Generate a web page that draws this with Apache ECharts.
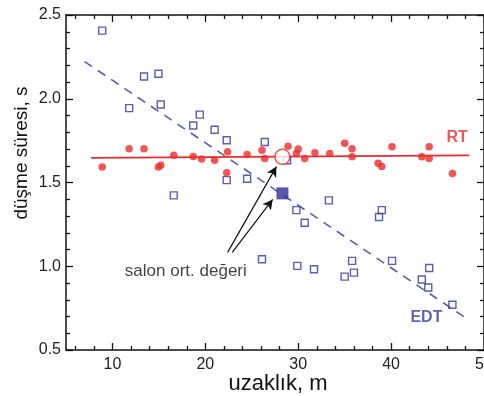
<!DOCTYPE html>
<html>
<head>
<meta charset="utf-8">
<script src="https://cdn.jsdelivr.net/npm/echarts@6/dist/echarts.min.js"></script>
<style>html,body{margin:0;padding:0;background:#fff}#c{width:484px;height:396px}</style>
</head>
<body>
<div id="c"></div>
<script>
// RT points [distance m, decay time s]
var rtPoints = [[8.9,1.593],[11.8,1.702],[13.4,1.702],[14.95,1.593],[15.2,1.603],[16.6,1.663],[18.7,1.655],[19.6,1.641],[21.0,1.633],[22.4,1.683],[22.3,1.558],[24.5,1.667],[26.1,1.692],[26.4,1.643],[28.9,1.716],[30.0,1.70],[29.8,1.673],[30.7,1.643],[31.8,1.677],[33.4,1.673],[35.0,1.734],[35.8,1.702],[35.8,1.653],[38.6,1.615],[39.0,1.595],[40.1,1.714],[43.3,1.653],[44.1,1.714],[44.1,1.643],[46.6,1.554]];
// EDT points
var edtPoints = [[8.9,2.407],[13.4,2.133],[14.95,2.149],[11.8,1.944],[15.2,1.966],[19.4,1.905],[18.7,1.84],[21.0,1.815],[22.3,1.752],[26.4,1.742],[16.6,1.423],[22.3,1.514],[24.5,1.522],[28.8,1.633],[33.3,1.393],[29.8,1.335],[30.7,1.26],[39.0,1.335],[38.7,1.294],[26.1,1.042],[29.9,1.002],[31.7,0.982],[35.8,1.032],[36.0,0.962],[35.0,0.938],[40.1,1.032],[44.1,0.99],[43.3,0.921],[44.0,0.873],[46.6,0.77]];
// fit lines
var rtFit = [[7.7,1.647],[48.4,1.662]];
var edtFit = [[7.0,2.222],[48.2,0.685]];
// hall averages
var rtMean = [[28.3,1.653]];
var edtMean = [[28.3,1.435]];
// annotation arrows [tail, tip]
var arrows = [[[22.4,1.083],[27.65,1.595]],[[22.9,1.083],[27.25,1.399]]];
// text annotations
var notes = [{value:[17.9,0.972],text:'salon ort. değeri',color:'#111',bold:false,size:17},
             {value:[47.1,1.768],text:'RT',color:'#ee2a2a',bold:true,size:16},
             {value:[43.8,0.696],text:'EDT',color:'#3b3b9e',bold:true,size:16}];
// ticks
var xMajor = [10,20,30,40,50];
var xMinor = [6,8,12,14,16,18,22,24,26,28,32,34,36,38,42,44,46,48];
var yMajor = [0.5,1.0,1.5,2.0,2.5];
var yMinor = [0.6,0.7,0.8,0.9,1.1,1.2,1.3,1.4,1.6,1.7,1.8,1.9,2.1,2.2,2.3,2.4];
var X_MIN = 5, X_MAX = 50, Y_MIN = 0.5, Y_MAX = 2.5;

var RED = '#ee2a2a', BLUE = '#35359c';
var FONT = 'Liberation Sans, Arial, sans-serif';
var GRID = {left:66, right:0, top:15, bottom:46};

var chart = echarts.init(document.getElementById('c'), null, {renderer:'canvas'});

// tick lengths (px) expressed in axis units from the grid size
var plotW = chart.getWidth() - GRID.left - GRID.right;
var plotH = chart.getHeight() - GRID.top - GRID.bottom;
function ux(px){ return px * (X_MAX - X_MIN) / plotW; }
function uy(px){ return px * (Y_MAX - Y_MIN) / plotH; }
var tickSegs = [];
function addX(vals, L){ vals.forEach(function(v){
  tickSegs.push([{coord:[v,Y_MIN]},{coord:[v,Y_MIN+uy(L)]}]);
  tickSegs.push([{coord:[v,Y_MAX]},{coord:[v,Y_MAX-uy(L)]}]); }); }
function addY(vals, L){ vals.forEach(function(v){
  tickSegs.push([{coord:[X_MIN,v]},{coord:[X_MIN+ux(L),v]}]);
  tickSegs.push([{coord:[X_MAX,v]},{coord:[X_MAX-ux(L),v]}]); }); }
addX(xMajor, 7); addX(xMinor, 4); addY(yMajor, 7); addY(yMinor, 4);

chart.setOption({
  animation:false,
  backgroundColor:'#fff',
  grid:{left:GRID.left, right:GRID.right, top:GRID.top, bottom:GRID.bottom, outerBoundsMode:'none'},
  xAxis:[{type:'value', min:X_MIN, max:X_MAX, position:'bottom',
      axisLine:{show:true, onZero:false, lineStyle:{color:'#111', width:1.5}},
      axisTick:{show:false},
      axisLabel:{show:true, customValues:xMajor, margin:7, color:'#222', fontSize:16, fontFamily:FONT},
      splitLine:{show:false}},
    {type:'value', min:X_MIN, max:X_MAX, position:'top',
      axisLine:{show:true, onZero:false, lineStyle:{color:'#111', width:1.5}},
      axisTick:{show:false}, axisLabel:{show:false}, splitLine:{show:false}}],
  yAxis:[{type:'value', min:Y_MIN, max:Y_MAX, interval:0.5, position:'left',
      axisLine:{show:true, onZero:false, lineStyle:{color:'#111', width:1.5}},
      axisTick:{show:false},
      axisLabel:{show:true, margin:5, color:'#222', fontSize:16, fontFamily:FONT, formatter:function(v){return v.toFixed(1);}},
      splitLine:{show:false}},
    {type:'value', min:Y_MIN, max:Y_MAX, interval:0.5, position:'right',
      axisLine:{show:true, onZero:false, lineStyle:{color:'#111', width:1.5}},
      axisTick:{show:false}, axisLabel:{show:false}, splitLine:{show:false}}],
  graphic:[
    {type:'text', x:22, y:153, rotation:Math.PI/2,
      style:{text:'düşme süresi, s', font:'19px '+FONT, fill:'#111', textAlign:'center', textVerticalAlign:'middle'}},
    {type:'text', x:278, y:384,
      style:{text:'uzaklık, m', font:'22px '+FONT, fill:'#111', textAlign:'center', textVerticalAlign:'middle'}}
  ],
  series:[
    {type:'line', data:[], z:10, clip:false,
      markLine:{silent:true, animation:false, symbol:['none','none'],
        lineStyle:{color:'#111', width:1.3, type:'solid'}, label:{show:false},
        emphasis:{disabled:true}, data:tickSegs}},
    {type:'line', data:edtFit, symbol:'none', silent:true,
      lineStyle:{color:'#5a5ab0', width:1.6, type:[9,7]}, z:2},
    {type:'line', data:rtFit, symbol:'none', silent:true,
      lineStyle:{color:RED, width:1.6}, z:2},
    {type:'scatter', data:edtPoints, symbol:'rect', symbolSize:7,
      itemStyle:{color:'rgba(255,255,255,0)', borderColor:BLUE, borderWidth:1.4}, z:3},
    {type:'scatter', data:rtPoints, symbol:'circle', symbolSize:7.5,
      itemStyle:{color:RED}, z:4},
    {type:'scatter', data:rtMean, symbol:'circle', symbolSize:15,
      itemStyle:{color:'#fff', borderColor:RED, borderWidth:1.5}, z:5},
    {type:'scatter', data:edtMean, symbol:'rect', symbolSize:12,
      itemStyle:{color:'#2e2e96'}, z:5},
    {type:'line', data:[], z:6,
      markLine:{silent:true, animation:false, symbol:['none','arrow'], symbolSize:[8,10],
        lineStyle:{color:'#111', width:1.2, type:'solid'}, label:{show:false},
        data:arrows.map(function(a){return [{coord:a[0]},{coord:a[1]}];})}},
    {type:'scatter', symbolSize:0, z:7,
      data:notes.map(function(n){return {value:n.value,
        label:{show:true, position:'inside', formatter:n.text, color:n.color,
          fontWeight:n.bold?'bold':'normal', fontSize:n.size, fontFamily:FONT}};})}
  ]
});
</script>
</body>
</html>
